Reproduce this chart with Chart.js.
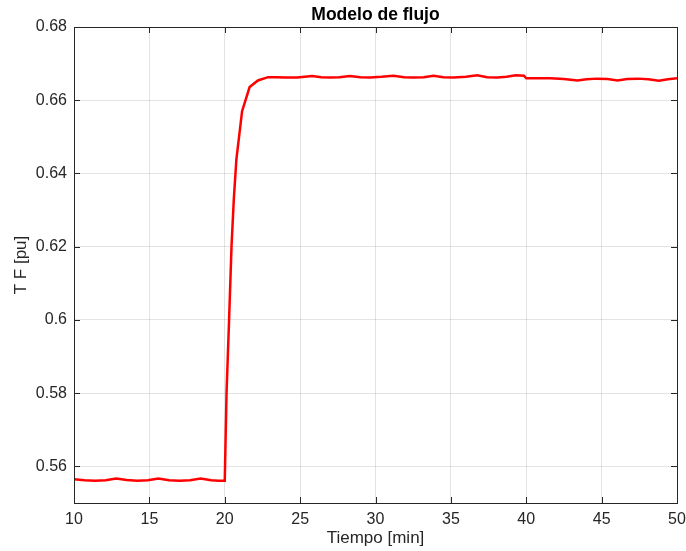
<!DOCTYPE html>
<html>
<head>
<meta charset="utf-8">
<script src="https://cdn.jsdelivr.net/npm/chart.js@4/dist/chart.umd.min.js"></script>
<style>
  html, body { margin: 0; padding: 0; background: #ffffff; }
  #wrap { width: 686px; height: 551px; }
</style>
</head>
<body>
<div id="wrap"><canvas id="c" width="686" height="551"></canvas></div>
<script>
// Flow model response: time in minutes and T F in per-unit
const tiempo = [
  10.0, 10.7, 11.4, 12.1, 12.8, 13.5, 14.2, 14.9, 15.6, 16.3, 17.0, 17.7, 18.4, 19.1, 19.6, 20.0,
  20.12, 20.29, 20.45, 20.6, 20.77, 21.15, 21.65, 22.2, 22.87, 23.4, 24.0, 24.8,
  25.8, 26.4, 27.0, 27.6, 28.3, 29.0, 29.65, 30.4, 31.2, 31.9, 32.5, 33.2, 33.85, 34.5,
  35.2, 36.0, 36.75, 37.4, 38.1, 38.7, 39.3, 39.85, 40.0, 41.6, 42.5, 43.4, 44.0, 44.7,
  45.4, 46.05, 46.7, 47.4, 48.1, 48.8, 49.4, 50.0
];
const tfPu = [
  0.5565, 0.5562, 0.5561, 0.5562, 0.5567, 0.5563, 0.5561, 0.5562, 0.5567, 0.5562, 0.5561, 0.5562, 0.5567, 0.5562, 0.5561, 0.5561,
  0.5803, 0.6003, 0.6202, 0.6329, 0.6438, 0.6570, 0.6636, 0.6654, 0.6663, 0.6663, 0.6662, 0.6662,
  0.6666, 0.6663, 0.6662, 0.6663, 0.6666, 0.6663, 0.6662, 0.6664, 0.6667, 0.6663, 0.6662, 0.6663, 0.6667, 0.6663,
  0.6662, 0.6664, 0.6668, 0.6663, 0.6662, 0.6664, 0.6668, 0.6667, 0.6660, 0.6660, 0.6658, 0.6654, 0.6657, 0.6659,
  0.6658, 0.6654, 0.6658, 0.6659, 0.6657, 0.6653, 0.6657, 0.6660
];
const xTicks = [10, 15, 20, 25, 30, 35, 40, 45, 50];
const yTicks = [0.56, 0.58, 0.60, 0.62, 0.64, 0.66, 0.68];
const yTickLabels = ['0.56', '0.58', '0.6', '0.62', '0.64', '0.66', '0.68'];

const titulo = 'Modelo de flujo';
const etiquetaX = 'Tiempo [min]';
const etiquetaY = 'T F [pu]';

const AXIS = '#262626';
const GRID = 'rgba(38,38,38,0.13)';
const FONT = '"Liberation Sans", Arial, Helvetica, sans-serif';

// Box around the axes with inward tick marks on all four sides, plus the title
const axesBox = {
  id: 'axesBox',
  afterDraw(chart) {
    const { ctx, chartArea: a, scales } = chart;
    const len = 6;
    ctx.save();
    ctx.strokeStyle = AXIS;
    ctx.lineWidth = 1;
    ctx.beginPath();
    xTicks.forEach(v => {
      const px = Math.round(scales.x.getPixelForValue(v)) + 0.5;
      ctx.moveTo(px, a.bottom); ctx.lineTo(px, a.bottom - len);
      ctx.moveTo(px, a.top); ctx.lineTo(px, a.top + len);
    });
    yTicks.forEach(v => {
      const py = Math.round(scales.y.getPixelForValue(v)) + 0.5;
      ctx.moveTo(a.left, py); ctx.lineTo(a.left + len, py);
      ctx.moveTo(a.right, py); ctx.lineTo(a.right - len, py);
    });
    ctx.stroke();
    ctx.strokeRect(Math.round(a.left) + 0.5, Math.round(a.top) + 0.5,
                   Math.round(a.right - a.left), Math.round(a.bottom - a.top));
    ctx.fillStyle = '#000000';
    ctx.font = 'bold 17.5px ' + FONT;
    ctx.textAlign = 'center';
    ctx.textBaseline = 'middle';
    ctx.fillText(titulo, (a.left + a.right) / 2, 15);
    ctx.restore();
  }
};

new Chart(document.getElementById('c'), {
  type: 'line',
  data: {
    datasets: [{
      data: tiempo.map((t, i) => ({ x: t, y: tfPu[i] })),
      borderColor: '#ff0000',
      borderWidth: 2.5,
      pointRadius: 0,
      tension: 0,
      fill: false
    }]
  },
  options: {
    responsive: false,
    animation: false,
    devicePixelRatio: 1,
    layout: { padding: { top: 27, right: 9, left: 0, bottom: 0 } },
    plugins: { legend: { display: false }, tooltip: { enabled: false }, title: { display: false } },
    scales: {
      x: {
        type: 'linear',
        min: 10, max: 50,
        afterFit(s) { s.height = 48; s.paddingLeft = 0; s.paddingRight = 0; },
        afterBuildTicks(s) { s.ticks = xTicks.map(v => ({ value: v })); },
        grid: { color: GRID, drawTicks: false, lineWidth: 1 },
        border: { display: false },
        ticks: { color: '#262626', font: { family: FONT, size: 16 }, padding: 7, maxRotation: 0,
                 callback: v => String(v) },
        title: { display: true, text: etiquetaX, color: '#262626',
                 font: { family: FONT, size: 17 }, padding: { top: 0, bottom: 2 } }
      },
      y: {
        type: 'linear',
        min: 0.55, max: 0.68,
        afterFit(s) { s.width = 74; s.paddingTop = 0; s.paddingBottom = 0; },
        afterBuildTicks(s) { s.ticks = yTicks.map(v => ({ value: v })); },
        grid: { color: GRID, drawTicks: false, lineWidth: 1 },
        border: { display: false },
        ticks: { color: '#262626', font: { family: FONT, size: 16 }, padding: 7,
                 callback: (v) => {
                   const i = yTicks.findIndex(t => Math.abs(t - v) < 1e-9);
                   return i >= 0 ? yTickLabels[i] : '';
                 } },
        title: { display: true, text: etiquetaY, color: '#262626',
                 font: { family: FONT, size: 17 }, padding: { top: 11, bottom: 0 } }
      }
    }
  },
  plugins: [axesBox]
});
</script>
</body>
</html>
